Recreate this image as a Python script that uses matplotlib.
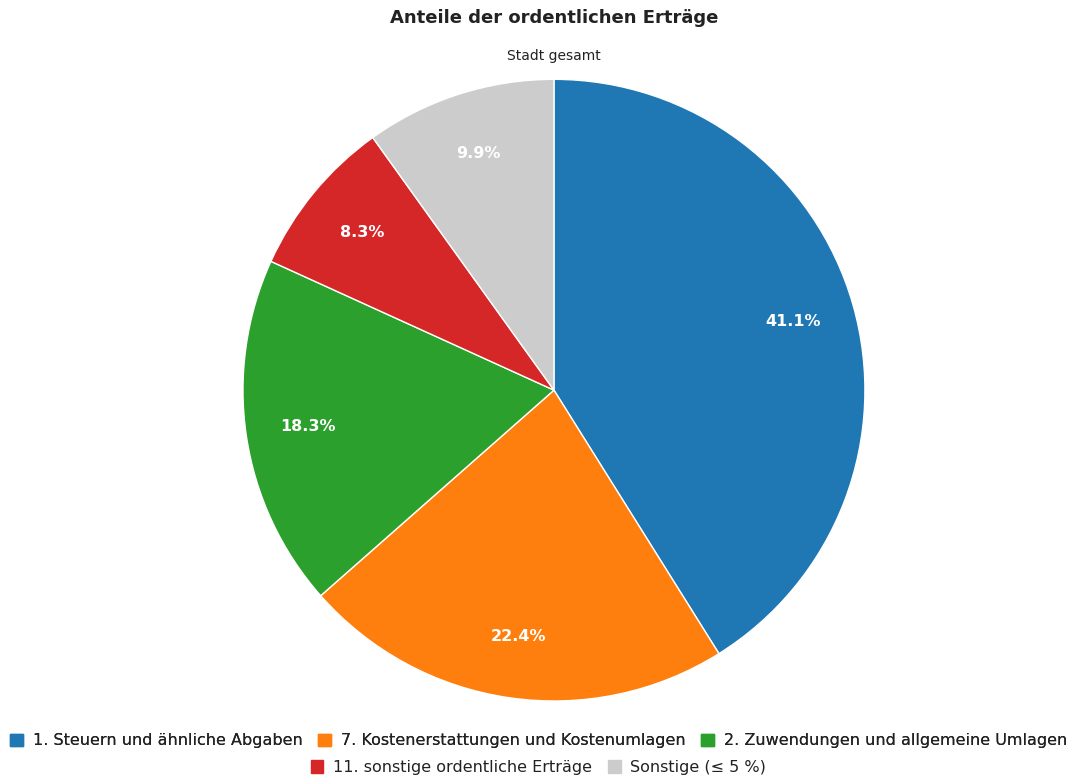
import matplotlib.pyplot as plt
from matplotlib.patches import Patch

# data
categories = ['1. Steuern und ähnliche Abgaben',
              '7. Kostenerstattungen und Kostenumlagen',
              '2. Zuwendungen und allgemeine Umlagen',
              '11. sonstige ordentliche Erträge',
              'Sonstige (≤ 5 %)']
shares = [41.1, 22.4, 18.3, 8.3, 9.9]
colors = ['#1f77b4', '#ff7f0e', '#2ca02c', '#d62728', '#cccccc']

plt.rcParams['font.family'] = ['DejaVu Sans']

fig = plt.figure(figsize=(10.77, 7.8), dpi=100)
ax = fig.add_axes([0.2256, 0.1013, 0.5775, 0.797])

wedges, texts, autotexts = ax.pie(
    shares, colors=colors, startangle=90, counterclock=False,
    autopct='%.1f%%', pctdistance=0.8,
    wedgeprops=dict(edgecolor='white', linewidth=1),
    textprops=dict(color='white', fontsize=11.5, fontweight='bold'))
ax.set_aspect('auto')
ax.set_xlim(-1, 1)
ax.set_ylim(-1, 1)

fig.text(0.5144, 0.977, 'Anteile der ordentlichen Erträge', ha='center', va='center',
         fontsize=13, fontweight='bold', color='#222222')
fig.text(0.5144, 0.928, 'Stadt gesamt', ha='center', va='center', fontsize=10, color='#222222')

handles = [Patch(facecolor=c, edgecolor=c) for c in colors]
leg1 = fig.legend(handles[:3], categories[:3], loc='center', bbox_to_anchor=(0.5, 0.05),
                  ncol=3, frameon=False, fontsize=11.5, handlelength=0.8, handleheight=0.8,
                  handletextpad=0.6, columnspacing=1.0, labelcolor='#222222')
fig.add_artist(leg1)
leg2 = fig.legend(handles[3:], categories[3:], loc='center', bbox_to_anchor=(0.5, 0.016),
                  ncol=2, frameon=False, fontsize=11.5, handlelength=0.8, handleheight=0.8,
                  handletextpad=0.6, columnspacing=1.0, labelcolor='#222222')

fig.savefig('out.png', dpi=100)
